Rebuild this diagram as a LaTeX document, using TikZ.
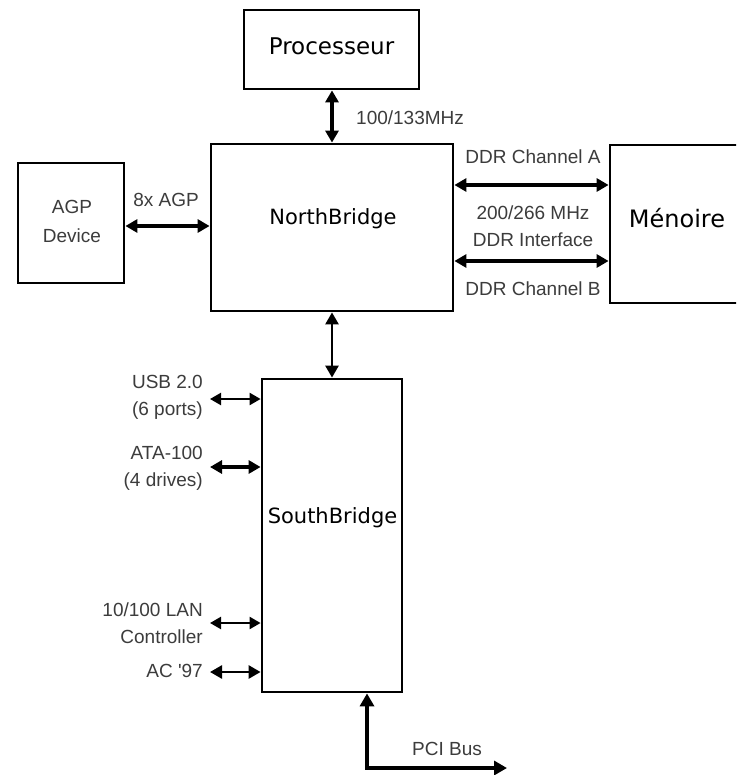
\documentclass[tikz,border=0pt]{standalone}
\usepackage{fontspec}
\setmainfont{Liberation Sans}
\newfontfamily\boxfont{DejaVu Sans}
\usetikzlibrary{arrows.meta}
\definecolor{lbl}{RGB}{60,60,60}
\tikzset{
  box/.style={draw=black, line width=2.8pt, fill=white, inner sep=0pt},
  boxtxt/.style={font=\boxfont\fontsize{21}{25}\selectfont, inner sep=0pt},
  lab/.style={font=\fontsize{19}{27}\selectfont, text=lbl, inner sep=0pt, align=center},
  labr/.style={lab, align=right, anchor=east},
  link/.style={line width=3.2pt, {Triangle[length=12pt,width=13pt]}-{Triangle[length=12pt,width=13pt]}},
  thin link/.style={line width=2.2pt, {Triangle[length=11pt,width=12pt]}-{Triangle[length=11pt,width=12pt]}},
}
\begin{document}
\begin{tikzpicture}[x=1pt,y=-1pt]
\useasboundingbox[fill=white] (0,0) rectangle (736,775);
\begin{scope}
\clip (0,0) rectangle (736,775);
% boxes
\node[box, minimum width=175pt, minimum height=79pt] (proc) at (331.5,49.5) {};
\node[boxtxt, font=\boxfont\fontsize{23}{27}\selectfont] (proctxt) at (331.5,46) {Processeur};
\node[box, minimum width=242pt, minimum height=167pt] (nb) at (332,227.5) {};
\node[boxtxt] (nbtxt) at (333,219) {NorthBridge};
\node[box, minimum width=106pt, minimum height=120pt] (agp) at (71,223) {};
\node[lab, font=\fontsize{19}{29}\selectfont] (agptxt) at (72,221) {AGP\\Device};
\node[box, minimum width=140pt, minimum height=158pt] (mem) at (680,224) {};
\node[boxtxt, font=\boxfont\fontsize{24}{28}\selectfont] (memtxt) at (677,218) {Ménoire};
\node[box, minimum width=140pt, minimum height=313pt] (sb) at (332,535.5) {};
\node[boxtxt] (sbtxt) at (332.5,518) {SouthBridge};
\end{scope}
% processor link
\draw[link] (proc.south -| nb.north) -- (nb.north);
\node[lab, anchor=west] (l100) at (356,118) {100/133MHz};
% AGP link
\coordinate (agpy) at (0,226);
\draw[link] (agp.east |- agpy) -- (nb.west |- agpy);
\node[lab] (l8x) at (166,200) {8x AGP};
% memory channels
\coordinate (cha) at (0,185);
\coordinate (chb) at (0,261);
\draw[link] (nb.east |- cha) -- (mem.west |- cha);
\draw[link] (nb.east |- chb) -- (mem.west |- chb);
\node[lab] (lcha) at (533,157) {DDR Channel A};
\node[lab] (lddr) at (533,226) {200/266 MHz\\DDR Interface};
\node[lab] (lchb) at (533,289) {DDR Channel B};
% NB-SB
\draw[link, line width=2.6pt] (nb.south) -- (sb.north);
% SB left ports
\coordinate (usb) at (210,399);
\coordinate (ata) at (210,467);
\coordinate (lan) at (210,623);
\coordinate (ac) at (210,672);
\draw[thin link] (usb) -- (sb.west |- usb);
\draw[link] (ata) -- (sb.west |- ata);
\draw[thin link] (lan) -- (sb.west |- lan);
\draw[link, line width=2.6pt] (ac) -- (sb.west |- ac);
\node[labr] (lusb) at (203,397) {USB 2.0\\(6 ports)};
\node[labr] (lata) at (203,468) {ATA-100\\(4 drives)};
\node[labr] (llan) at (203,623) {10/100 LAN\\Controller};
\node[labr] (lac) at (203,671) {AC \textquotesingle97};
% PCI bus
\coordinate (pcicorner) at (367,768);
\coordinate (pciend) at (507,768);
\draw[line width=4.2pt, {Triangle[length=13pt,width=14pt]}-{Triangle[length=13pt,width=14pt]}] (sb.south -| pcicorner) -- (pcicorner) -- (pciend);
\node[lab] (lpci) at (447,749) {PCI Bus};
\end{tikzpicture}
\end{document}
